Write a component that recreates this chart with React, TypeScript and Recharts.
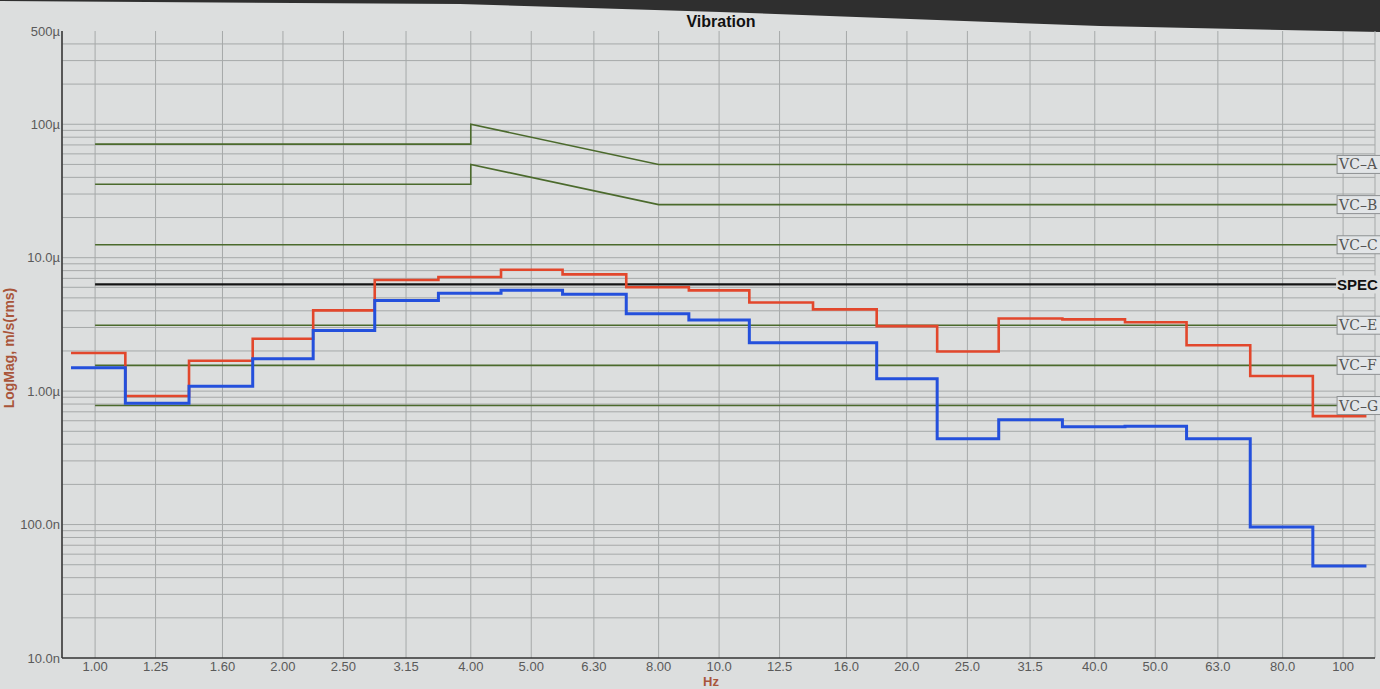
import { CartesianGrid, Line, LineChart, XAxis, YAxis } from "recharts";

// 1/3-octave band centres, Hz
const BANDS = [1, 1.25, 1.6, 2, 2.5, 3.15, 4, 5, 6.3, 8, 10, 12.5, 16, 20, 25, 31.5, 40, 50, 63, 80, 100];
const BAND_LABELS = [
  "1.00", "1.25", "1.60", "2.00", "2.50", "3.15", "4.00", "5.00", "6.30", "8.00", "10.0",
  "12.5", "16.0", "20.0", "25.0", "31.5", "40.0", "50.0", "63.0", "80.0", "100",
];

// band levels in µm/s rms
const RED_LEVELS = [
  1.93, 0.92, 1.69, 2.47, 4.03, 6.8, 7.16, 8.13, 7.5, 6.0, 5.69,
  4.61, 4.1, 3.07, 1.98, 3.5, 3.45, 3.28, 2.21, 1.3, 0.65,
];
const BLUE_LEVELS = [
  1.5, 0.81, 1.09, 1.75, 2.85, 4.77, 5.41, 5.71, 5.33, 3.8, 3.42,
  2.3, 2.3, 1.24, 0.44, 0.61, 0.54, 0.546, 0.44, 0.096, 0.049,
];
// where the stepped traces start and stop, Hz
const TRACE_START = 0.915;
const TRACE_END = 109;

// criteria curves: [Hz, µm/s]
const VC_A: [number, number][] = [[1, 71], [4, 71], [4, 100], [8, 50], [100, 50]];
const VC_B: [number, number][] = [[1, 35.5], [4, 35.5], [4, 50], [8, 25], [100, 25]];
const VC_C: [number, number][] = [[1, 12.5], [100, 12.5]];
const SPEC: [number, number][] = [[1, 6.3], [100, 6.3]];
const VC_E: [number, number][] = [[1, 3.12], [100, 3.12]];
const VC_F: [number, number][] = [[1, 1.56], [100, 1.56]];
const VC_G: [number, number][] = [[1, 0.78], [100, 0.78]];

const Y_TICKS = [1e-8, 1e-7, 1e-6, 1e-5, 1e-4, 5e-4];
const Y_TICK_LABELS = ["10.0n", "100.0n", "1.00µ", "10.0µ", "100µ", "500µ"];
const DECADES = [1e-8, 1e-7, 1e-6, 1e-5, 1e-4];
const MANTISSAS = [1, 2, 3, 4, 5, 6, 7, 8, 9];

const yGrid = DECADES.flatMap((d) => MANTISSAS.map((m) => m * d)).filter((v) => v > 1e-8 && v < 4.5e-4);

function trace(levels: number[]) {
  const pts = BANDS.map((f, i) => ({ f, v: levels[i] * 1e-6 }));
  return [{ f: TRACE_START, v: pts[0].v }, ...pts, { f: TRACE_END, v: pts[pts.length - 1].v }];
}

function curve(points: [number, number][]) {
  return points.map(([f, v]) => ({ f, v: v * 1e-6 }));
}

const VC_COLOR = "#4b6a2c";

function endLabel(text: string, count: number, bold = false) {
  return (props: any) => {
    const { x, y, index } = props;
    const isLast = index === count - 1 || (index === undefined && x > 1300);
    if (!isLast) return null;
    if (bold) {
      return (
        <g>
          <rect x={x - 7} y={y - 9} width={60} height={18} fill="#dcdede" />
          <text x={x - 6} y={y + 6} fontFamily="Liberation Sans" fontWeight="bold" fontSize={15} fill="#111">
            {text}
          </text>
        </g>
      );
    }
    return (
      <g>
        <rect x={x - 6} y={y - 9} width={60} height={18} fill="#e2e5e7" stroke="#8e9193" strokeWidth={1} />
        <text x={x - 4} y={y + 5} fontFamily="DejaVu Serif" fontSize={14} fill="#555">
          {text}
        </text>
      </g>
    );
  };
}

const tickStyle = { fontFamily: "Liberation Sans", fontSize: 13, fill: "#5a5a5a" };

export default function App() {
  return (
    <div
      style={{
        position: "absolute",
        left: 0,
        top: 0,
        width: 1380,
        height: 689,
        overflow: "hidden",
        background: "#dcdede",
        fontFamily: "Liberation Sans",
      }}
    >
      <svg width={1380} height={40} style={{ position: "absolute", left: 0, top: 0 }}>
        <polygon points="0,0 1380,0 1380,32 1100,26 720,12 460,4 0,1" fill="#2f2f2f" />
      </svg>
      <div
        style={{
          position: "absolute",
          left: 721,
          top: 13,
          transform: "translateX(-50%)",
          fontWeight: "bold",
          fontSize: 16,
          color: "#111",
        }}
      >
        Vibration
      </div>
      <LineChart
        width={1380}
        height={689}
        margin={{ top: 31, right: 5, bottom: 0, left: 0 }}
        style={{ position: "absolute", left: 0, top: 0 }}
      >
        <CartesianGrid stroke="#a6a9a9" strokeWidth={1} horizontalValues={yGrid} />
        <XAxis
          dataKey="f"
          type="number"
          scale="log"
          domain={[0.885, 112.5]}
          allowDataOverflow
          ticks={BANDS}
          interval={0}
          tickFormatter={(v: number) => BAND_LABELS[BANDS.indexOf(v)] ?? ""}
          tick={tickStyle}
          tickLine={false}
          tickSize={0}
          tickMargin={4}
          height={31}
          axisLine={{ stroke: "#333", strokeWidth: 1.5 }}
          label={() => (
            <text x={711} y={686} textAnchor="middle" fontFamily="Liberation Sans" fontWeight="bold" fontSize={13} fill="#a9553a">
              Hz
            </text>
          )}
        />
        <YAxis
          type="number"
          scale="log"
          domain={[1e-8, 5e-4]}
          allowDataOverflow
          ticks={Y_TICKS}
          interval={0}
          tickFormatter={(v: number) => Y_TICK_LABELS[Y_TICKS.indexOf(v)] ?? ""}
          tick={tickStyle}
          tickLine={false}
          tickSize={0}
          tickMargin={2}
          width={62}
          axisLine={{ stroke: "#333", strokeWidth: 1.5 }}
          label={() => (
            <text
              x={14}
              y={348}
              transform="rotate(-90 14 348)"
              textAnchor="middle"
              fontFamily="Liberation Sans"
              fontWeight="bold"
              fontSize={14}
              fill="#a9553a"
            >
              LogMag, m/s(rms)
            </text>
          )}
        />
        <Line data={curve(VC_A)} dataKey="v" type="linear" stroke={VC_COLOR} strokeWidth={1.6} dot={false} isAnimationActive={false} label={endLabel("VC–A", VC_A.length)} />
        <Line data={curve(VC_B)} dataKey="v" type="linear" stroke={VC_COLOR} strokeWidth={1.6} dot={false} isAnimationActive={false} label={endLabel("VC–B", VC_B.length)} />
        <Line data={curve(VC_C)} dataKey="v" type="linear" stroke={VC_COLOR} strokeWidth={1.6} dot={false} isAnimationActive={false} label={endLabel("VC–C", VC_C.length)} />
        <Line data={curve(VC_E)} dataKey="v" type="linear" stroke={VC_COLOR} strokeWidth={1.6} dot={false} isAnimationActive={false} label={endLabel("VC–E", VC_E.length)} />
        <Line data={curve(VC_F)} dataKey="v" type="linear" stroke={VC_COLOR} strokeWidth={1.6} dot={false} isAnimationActive={false} label={endLabel("VC–F", VC_F.length)} />
        <Line data={curve(VC_G)} dataKey="v" type="linear" stroke={VC_COLOR} strokeWidth={1.6} dot={false} isAnimationActive={false} label={endLabel("VC–G", VC_G.length)} />
        <Line data={curve(SPEC)} dataKey="v" type="linear" stroke="#141414" strokeWidth={2.2} dot={false} isAnimationActive={false} label={endLabel("SPEC", SPEC.length, true)} />
        <Line data={trace(RED_LEVELS)} dataKey="v" type="step" stroke="#e2472c" strokeWidth={2.6} dot={false} isAnimationActive={false} />
        <Line data={trace(BLUE_LEVELS)} dataKey="v" type="step" stroke="#2450dc" strokeWidth={3} dot={false} isAnimationActive={false} />
      </LineChart>
    </div>
  );
}
